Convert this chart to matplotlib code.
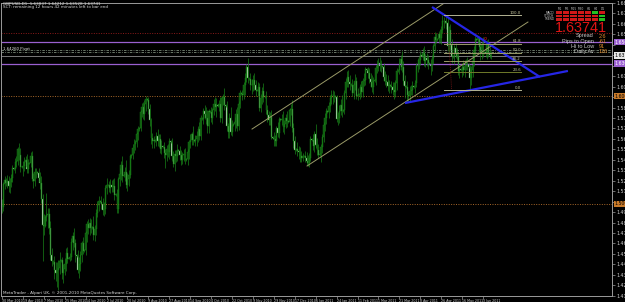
#!/usr/bin/env python3

"""
GBPUSD D1 chart, MetaTrader look
"""

import matplotlib
matplotlib.use("Agg")
import matplotlib.pyplot as plt
import matplotlib.transforms as mtrans
import numpy as np

# =======================
# Data (pips, 1e-4), Tue 30 Mar 2010 .. Fri 10 Jun 2011, Sunday bars included
# open of a bar = close of the bar before
# =======================
first_open = 15005

closes = [
    14975, 15185, 15225, 15195,
    15215, 15165, 15205, 15245, 15330,
    15325, 15390, 15395, 15505, 15455, 15345,
    15340, 15355, 15385, 15405, 15325, 15375,
    15380, 15445, 15235, 15215, 15295, 15295,
    15290, 15245, 15195, 15050, 14810, 14795,
    14880, 14895, 14905, 14780, 14525, 14475,
    14460, 14390, 14365, 14385, 14410, 14470,
    14480, 14365, 14395, 14440, 14545, 14495,
    14500, 14505, 14645, 14700, 14640, 14525,
    14520, 14390, 14445, 14525, 14640, 14565,
    14570, 14730, 14815, 14780, 14820, 14780,
    14790, 14710, 14770, 14920, 14990, 15030,
    15020, 15000, 14940, 14950, 15150, 15180,
    15175, 15150, 15180, 15160, 15170, 15080,
    15090, 14950, 15230, 15280, 15360, 15260,
    15270, 15300, 15180, 15230, 15270, 15440,
    15450, 15520, 15560, 15570, 15650, 15690,
    15700, 15850, 15900, 15830, 15930, 15970,
    15960, 15880, 15780, 15610, 15580, 15590,
    15580, 15630, 15580, 15600, 15510, 15540,
    15530, 15470, 15450, 15510, 15480, 15580,
    15575, 15440, 15370, 15460, 15440, 15500,
    15495, 15450, 15410, 15450, 15460, 15410,
    15420, 15480, 15570, 15590, 15650, 15590,
    15585, 15600, 15630, 15690, 15630, 15800,
    15790, 15860, 15830, 15800, 15720, 15860,
    15850, 15800, 15870, 15930, 15900, 15920,
    15910, 15930, 15800, 15980, 15990, 15920,
    15910, 15720, 15670, 15800, 15670, 15730,
    15740, 15760, 15830, 15720, 15930, 16030,
    16020, 16010, 16100, 16170, 16270, 16170,
    16160, 16100, 16100, 16150, 16100, 16060,
    16050, 16080, 15890, 15980, 16050, 15990,
    16000, 15870, 15820, 15780, 15810, 15620,
    15610, 15600, 15580, 15700, 15660, 15790,
    15780, 15790, 15710, 15740, 15800, 15770,
    15760, 15870, 15880, 15700, 15580, 15500,
    15510, 15490, 15480, 15440, 15430, 15440,
    15445, 15430, 15400, 15380, 15430, 15600,
    15590, 15540, 15650, 15550, 15500, 15450,
    15460, 15530, 15620, 15730, 15800, 15860,
    15850, 15910, 15980, 16010, 16010, 16000,
    15990, 15790, 15800, 15860, 15920, 15860,
    15870, 16030, 16130, 16180, 16130, 16110,
    16100, 16030, 16100, 16140, 16000, 16010,
    16020, 16080, 16040, 16140, 16150, 16250,
    16240, 16210, 16160, 16130, 16080, 16140,
    16150, 16260, 16290, 16310, 16280, 16280,
    16270, 16180, 16140, 16130, 16090, 16100,
    16090, 16080, 16060, 16040, 16120, 16230,
    16240, 16300, 16340, 16270, 16140, 16090,
    16080, 16010, 16000, 16050, 16060, 16090,
    16080, 16120, 16280, 16300, 16330, 16380,
    16370, 16400, 16320, 16350, 16330, 16310,
    16300, 16280, 16350, 16460, 16550, 16520,
    16530, 16570, 16540, 16610, 16690, 16690,
    16680, 16680, 16460, 16610, 16470, 16370,
    16360, 16440, 16400, 16370, 16230, 16250,
    16240, 16270, 16240, 16280, 16290, 16300,
    16270, 16170, 16240, 16320, 16430, 16530,
    16520, 16540, 16450, 16390, 16470, 16400,
    16410, 16400, 16470, 16400, 16380, 16374,
]

# upper wick above the body, pips
wick_up = [
    45, 20, 35, 15,
    50, 40, 40, 35, 30,
    10, 40, 45, 20, 60, 60,
    10, 45, 50, 40, 55, 40,
    8, 40, 50, 50, 35, 40,
    8, 45, 50, 60, 45, 100,
    20, 205, 55, 60, 60, 70,
    10, 60, 70, 80, 70, 90,
    10, 30, 45, 60, 50, 60,
    8, 40, 40, 45, 75, 40,
    10, 50, 60, 40, 20, 50,
    10, 20, 25, 50, 50, 40,
    10, 100, 40, 30, 40, 40,
    10, 55, 60, 70, 25, 60,
    8, 40, 50, 45, 60, 70,
    8, 45, 20, 50, 35, 85,
    10, 40, 110, 60, 45, 25,
    10, 40, 45, 25, 20, 30,
    10, 20, 35, 45, 30, 30,
    10, 30, 45, 20, 50, 40,
    8, 40, 60, 50, 45, 50,
    8, 40, 40, 40, 50, 30,
    8, 40, 50, 40, 40, 60,
    8, 40, 50, 35, 45, 55,
    8, 30, 20, 60, 20, 70,
    8, 40, 50, 30, 70, 20,
    8, 25, 60, 70, 70, 20,
    8, 50, 20, 40, 60, 60,
    8, 30, 60, 20, 30, 80,
    8, 40, 30, 40, 100, 50,
    8, 50, 50, 70, 25, 30,
    8, 40, 30, 40, 30, 80,
    8, 50, 60, 40, 60, 50,
    8, 50, 40, 40, 30, 70,
    8, 50, 50, 40, 40, 60,
    8, 60, 40, 20, 60, 20,
    8, 40, 70, 40, 30, 60,
    8, 20, 50, 80, 50, 50,
    8, 60, 50, 50, 50, 30,
    8, 50, 50, 50, 40, 30,
    8, 60, 30, 90, 60, 60,
    8, 30, 30, 30, 40, 30,
    8, 30, 30, 50, 50, 40,
    8, 20, 50, 60, 50, 90,
    8, 30, 40, 50, 60, 60,
    8, 60, 30, 60, 40, 60,
    8, 30, 60, 30, 60, 20,
    8, 30, 50, 50, 60, 40,
    8, 30, 40, 40, 50, 50,
    8, 40, 50, 60, 60, 50,
    8, 50, 50, 70, 30, 30,
    8, 50, 40, 80, 50, 50,
    8, 60, 40, 40, 40, 50,
    8, 30, 30, 50, 40, 40,
    8, 40, 60, 40, 50, 50,
    8, 40, 30, 20, 40, 30,
    8, 30, 50, 40, 56, 40,
    8, 50, 40, 40, 60, 60,
    8, 30, 50, 40, 40, 40,
    8, 40, 60, 50, 50, 60,
    8, 20, 40, 30, 30, 30,
    8, 10, 20, 60, 40, 80,
    8, 40, 50, 60, 50, 40,
]

# lower wick below the body, pips
wick_dn = [
    60, 40, 50, 25,
    45, 55, 60, 50, 40,
    10, 35, 50, 35, 45, 50,
    10, 80, 45, 45, 40, 35,
    8, 35, 20, 65, 45, 50,
    10, 40, 60, 40, 335, 80,
    10, 40, 120, 55, 40, 45,
    15, 80, 75, 135, 180, 60,
    10, 60, 95, 55, 60, 40,
    8, 30, 20, 70, 35, 60,
    15, 30, 75, 70, 60, 25,
    8, 40, 80, 55, 70, 50,
    10, 40, 55, 60, 45, 55,
    10, 45, 45, 55, 45, 60,
    8, 40, 50, 45, 45, 40,
    10, 35, 35, 60, 55, 60,
    10, 55, 30, 60, 60, 30,
    10, 30, 45, 60, 45, 60,
    10, 20, 45, 40, 50, 70,
    10, 45, 55, 50, 65, 60,
    10, 45, 45, 50, 40, 50,
    8, 40, 120, 50, 45, 60,
    8, 45, 30, 60, 50, 45,
    8, 40, 50, 40, 50, 40,
    8, 60, 60, 50, 45, 45,
    8, 50, 60, 60, 40, 40,
    8, 45, 40, 55, 60, 60,
    8, 40, 60, 45, 40, 90,
    8, 50, 40, 50, 60, 50,
    8, 40, 60, 60, 30, 40,
    8, 60, 60, 40, 35, 40,
    10, 50, 40, 90, 40, 50,
    8, 40, 80, 50, 40, 60,
    8, 50, 30, 40, 50, 50,
    8, 40, 60, 50, 50, 20,
    8, 60, 45, 40, 40, 50,
    8, 50, 40, 60, 40, 60,
    8, 40, 50, 30, 60, 40,
    8, 50, 60, 50, 45, 30,
    8, 40, 40, 30, 40, 30,
    8, 40, 60, 30, 50, 20,
    8, 70, 60, 50, 50, 60,
    8, 50, 60, 50, 80, 60,
    8, 30, 60, 50, 40, 50,
    8, 40, 60, 50, 50, 50,
    8, 30, 60, 40, 30, 40,
    8, 50, 50, 50, 50, 50,
    8, 40, 40, 50, 40, 60,
    8, 50, 50, 60, 50, 60,
    8, 40, 40, 50, 40, 60,
    8, 50, 50, 65, 50, 60,
    8, 40, 60, 50, 40, 105,
    8, 70, 50, 60, 40, 50,
    8, 50, 40, 60, 50, 40,
    8, 40, 40, 50, 50, 60,
    8, 90, 50, 50, 40, 30,
    8, 40, 50, 60, 30, 60,
    8, 60, 40, 50, 40, 60,
    8, 60, 50, 40, 40, 60,
    8, 60, 50, 60, 40, 50,
    8, 114, 70, 60, 40, 50,
    8, 40, 40, 60, 50, 40,
    8, 40, 60, 40, 30, 30,
]

date_labels = [
    "30 Mar 2010", "19 Apr 2010", "7 May 2010", "25 May 2010", "14 Jun 2010",
    "2 Jul 2010", "20 Jul 2010", "9 Aug 2010", "27 Aug 2010", "14 Sep 2010",
    "4 Oct 2010", "22 Oct 2010", "9 Nov 2010", "29 Nov 2010", "17 Dec 2010",
    "6 Jan 2011", "24 Jan 2011", "11 Feb 2011", "1 Mar 2011", "21 Mar 2011",
    "8 Apr 2011", "26 Apr 2011", "16 May 2011", "3 Jun 2011",
]
bars_per_label = 16

price_ticks = [
    1.68610, 1.67640, 1.66680, 1.65710, 1.64740, 1.63770, 1.62800, 1.61840,
    1.60870, 1.59900, 1.58930, 1.57960, 1.57000, 1.56030, 1.55060, 1.54090,
    1.53120, 1.52150, 1.51190, 1.50220, 1.49250, 1.48280, 1.47320, 1.46350,
    1.45380, 1.44410, 1.43450, 1.42480, 1.41510,
]

bid = 1.63741

# horizontal objects
hlines_purple = [1.6500, 1.6300]
hlines_orange = [1.6000, 1.5000]
hline_red = 1.6583
hlines_grey = [1.6426, 1.6407]

# trend objects: (bar, price) anchors
channel_upper = [(191.3, 1.5694), (342.0, 1.6889)]
channel_lower = [(233.4, 1.5352), (402.4, 1.6685)]
blue_upper = [(329.0, 1.6824), (411.6, 1.6176)]
blue_lower = [(308.3, 1.5935), (433.0, 1.6232)]

fib_low, fib_high = 1.6056, 1.6746
fib_levels = [0.0, 23.6, 38.2, 50.0, 61.8, 100.0]
fib_bars = (338, 397)

# panel
tf_names = ["M1", "M5", "M15", "M30", "H1", "H4", "D1"]
row_names = ["MACD", "STOCH", "TREND"]
signal_up = [
    [0, 0, 0, 0, 0, 1, 0],
    [0, 0, 0, 0, 0, 0, 1],
    [0, 0, 0, 0, 0, 0, 1],
]
info_names = ["Spread", "Pips to Open", "Hi to Low", "Daily Av"]
info_values = ["2.6", "-61", "91", "126"]

# =======================
# Build OHLC
# =======================
assert len(closes) == len(wick_up) == len(wick_dn)
c = np.array(closes) / 1e4
o = np.concatenate([[first_open / 1e4], c[:-1]])
hi = np.maximum(o, c) + np.array(wick_up) / 1e4
lo = np.minimum(o, c) - np.array(wick_dn) / 1e4
x = np.arange(len(c))

# =======================
# Figure
# =======================
W, H = 625, 302
fig = plt.figure(figsize=(W / 100, H / 100), dpi=100, facecolor="black")
ax = fig.add_axes([1 / W, 6 / H, 611 / W, 293 / H], facecolor="black")

px_per_bar = 1.307
x0 = -0.77
ax.set_xlim(x0, x0 + 611 / px_per_bar)
ax.set_ylim(1.41480, 1.68612)

for s in ax.spines.values():
    s.set_color("#9a9a9a")
    s.set_linewidth(0.7)

grn = "#178017"

# horizontal levels (behind candles)
ax.axhline(hline_red, color="#8b1a1a", lw=0.7, ls=(0, (1, 1.5)))
for p in hlines_orange:
    ax.axhline(p, color="#a8682a", lw=0.7, ls=(0, (1, 1.5)))
for p in hlines_purple:
    ax.axhline(p, color="#9a5fd0", lw=0.9)
for p in hlines_grey:
    ax.axhline(p, color="#7a8a78", lw=0.6, ls=(0, (3, 1.5, 1, 1.5)))
ax.axhline(bid, color="#8c8c8c", lw=0.6)

# candles
ax.vlines(x, lo, hi, color=grn, lw=0.5)
bull = c >= o
body = np.maximum(np.abs(c - o), 0.00012)
ax.bar(x[bull], body[bull], bottom=o[bull], width=0.72,
       color="#0c4c0c", edgecolor=grn, lw=0.3)
ax.bar(x[~bull], body[~bull], bottom=c[~bull], width=0.72,
       color="#f2f2f2", edgecolor=grn, lw=0.3)

# channel lines
for line in (channel_upper, channel_lower):
    (b1, p1), (b2, p2) = line
    ax.plot([b1, b2], [p1, p2], color="#9a9a68", lw=0.7)

# blue trend lines
for line in (blue_upper, blue_lower):
    (b1, p1), (b2, p2) = line
    ax.plot([b1, b2], [p1, p2], color="#2626e6", lw=1.6, solid_capstyle="butt")

# fibonacci
for lev in fib_levels:
    p = fib_low + (fib_high - fib_low) * lev / 100
    col = "#b4b494" if lev in (100.0, 0.0) else ("#6f7a2a" if lev == 23.6 else "#9a9a68")
    ax.plot(fib_bars, [p, p], color=col, lw=0.7)
    ax.text(fib_bars[1], p + 0.0004, f"{lev:.1f}", color="#c8c8a0",
            fontsize=2.8, ha="right", va="bottom")
ax.plot([342, 344], [1.6480, 1.6060], color="#8b1a1a", lw=0.6, ls=(0, (1, 1.5)))
ax.text(370, 1.6537, "o", color="#d02020", fontsize=3.5, ha="center", va="center")

# =======================
# Axes labels
# =======================
boxes = [(p, "#9a5fd0", "white") for p in hlines_purple]
boxes += [(p, "#c87a2a", "black") for p in hlines_orange]
boxes += [(bid, "#e8e8e8", "black")]
box_prices = [b[0] for b in boxes]

# scale labels that a price box covers are left out
shown = [p for p in price_ticks if min(abs(p - q) for q in box_prices) > 0.006]

ax.yaxis.tick_right()
ax.set_yticks(price_ticks)
ax.set_yticklabels([f"{p:.5f}" if p in shown else "" for p in price_ticks])
ax.tick_params(axis="y", colors="#9a9a9a", labelcolor="#d0d0d0",
               labelsize=3.4, length=2, width=0.5, pad=1)

ax.set_xticks(np.arange(len(date_labels)) * bars_per_label)
ax.set_xticklabels(date_labels, ha="left")
ax.tick_params(axis="x", colors="#9a9a9a", labelcolor="#d0d0d0",
               labelsize=2.3, length=2, width=0.5, pad=0.5)

# price boxes on the scale
yb = mtrans.blended_transform_factory(ax.transAxes, ax.transData)
for p, fc, tc in boxes:
    ax.text(1.004, p, f"{p:.5f}", transform=yb, fontsize=3.4, color=tc,
            va="center", ha="left", clip_on=False,
            bbox=dict(boxstyle="square,pad=0.15", fc=fc, ec="none"))

# =======================
# Texts
# =======================
def px(xp, yp):
    return xp / W, 1 - yp / H

fig.text(*px(3, 4), "GBPUSD,D1  1.63837 1.64212 1.63528 1.63741",
         color="#d8d8d8", fontsize=3.0, va="center")
fig.text(*px(3, 7), "SCT: remaining 12 hours 42 minutes left to bar end",
         color="#d8d8d8", fontsize=3.0, va="center")
fig.text(*px(3, 49), "1.64260 Pivot", color="#e8e8e8", fontsize=2.8, va="center")
fig.text(*px(3, 293), "MetaTrader - Alpari UK, \u00a9 2001-2010 MetaQuotes Software Corp.",
         color="#d8d8d8", fontsize=3.0, va="center")

# signal grid
gx0, gy0, cw, ch = 556, 11, 7.2, 3.4
for j, name in enumerate(tf_names):
    fig.text(*px(gx0 + cw * j + cw / 2, 8.5), name, color="#c0c0c0",
             fontsize=2.2, ha="center", va="center")
for i, rname in enumerate(row_names):
    fig.text(*px(gx0 - 1.5, gy0 + ch * i + ch / 2), rname, color="#c0c0c0",
             fontsize=2.2, ha="right", va="center")
    for j in range(len(tf_names)):
        col = "#22c022" if signal_up[i][j] else "#d01818"
        fig.patches.append(plt.Rectangle(
            px(gx0 + cw * j, gy0 + ch * (i + 1) - 0.4), (cw - 1) / W, (ch - 0.8) / H,
            transform=fig.transFigure, fc=col, ec="none"))

fig.text(*px(607, 27.5), f"{bid:.5f}", color="#e01414", fontsize=10.4,
         ha="right", va="center", family="Liberation Sans")

for k, (nm, val) in enumerate(zip(info_names, info_values)):
    yy = 36 + 5.2 * k
    fig.text(*px(594, yy), nm, color="#c8c8c8", fontsize=4.0, ha="right",
             va="center", family="Liberation Sans")
    fig.text(*px(599, yy), val, color="#e08a2a", fontsize=4.0, ha="left",
             va="center", family="Liberation Sans")

fig.savefig("out.png", dpi=100, facecolor="black")
print("done")
